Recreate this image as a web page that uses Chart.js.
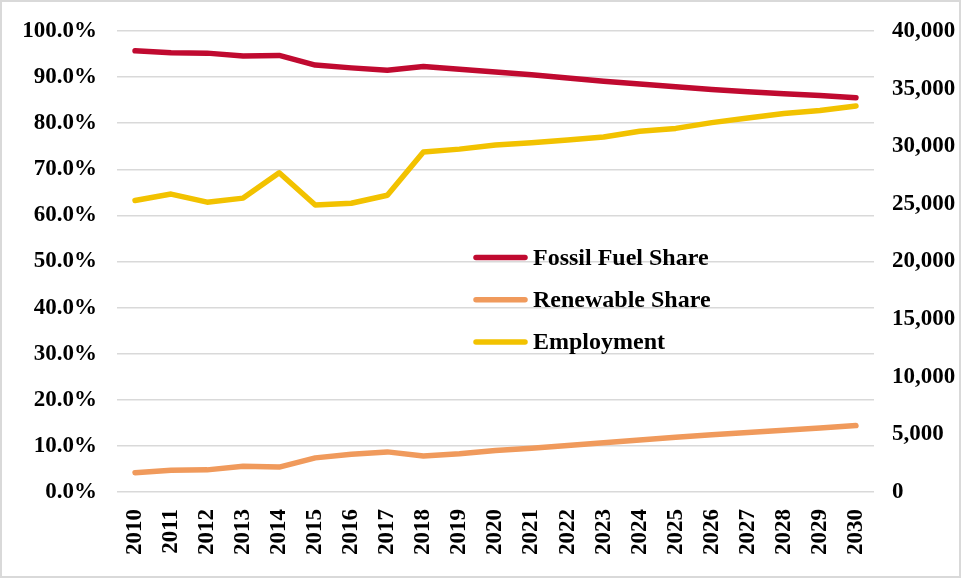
<!DOCTYPE html>
<html>
<head>
<meta charset="utf-8">
<script src="https://cdn.jsdelivr.net/npm/chart.js@4/dist/chart.umd.min.js"></script>
<style>
  html, body { margin: 0; padding: 0; background: #fff; }
  #frame {
    position: absolute; left: 0; top: 0;
    width: 961px; height: 578px;
    box-sizing: border-box;
    border: 2px solid #d9d9d9;
  }
  #chart { display: block; }
</style>
</head>
<body>
<div id="frame"><canvas id="chart" width="957" height="574"></canvas></div>
<script>
// years on the x axis
const years = ['2010', '2011', '2012', '2013', '2014', '2015', '2016', '2017', '2018', '2019', '2020',
               '2021', '2022', '2023', '2024', '2025', '2026', '2027', '2028', '2029', '2030'];

// shares in percent (left axis)
const fossilShare = [95.7, 95.3, 95.2, 94.6, 94.7, 92.6, 92.0, 91.5, 92.3, 91.7, 91.1,
                     90.5, 89.8, 89.1, 88.5, 87.9, 87.3, 86.8, 86.4, 86.0, 85.5];
const renewableShare = [4.2, 4.7, 4.8, 5.6, 5.4, 7.4, 8.2, 8.7, 7.8, 8.3, 9.0,
                        9.5, 10.1, 10.7, 11.3, 11.9, 12.4, 12.9, 13.4, 13.9, 14.4];

// employment (right axis)
const employment = [25300, 25850, 25150, 25500, 27700, 24900, 25050, 25750, 29500, 29750, 30100,
                    30300, 30550, 30800, 31300, 31550, 32050, 32450, 32850, 33100, 33500];

const FONT = { family: '"Liberation Serif", "Times New Roman", serif', size: 23, weight: 'bold' };
const LEGEND_FONT = { family: FONT.family, size: 24, weight: 'bold' };

// legend drawn inside the plot, like the original
const innerLegend = {
    id: 'innerLegend',
    afterDatasetsDraw(chart) {
        const ctx = chart.ctx;
        const x0 = 474, lineLen = 49, textX = 531, rowGap = 42.3;
        let y = 255.5;
        ctx.save();
        ctx.font = `${LEGEND_FONT.weight} ${LEGEND_FONT.size}px ${LEGEND_FONT.family}`;
        ctx.textBaseline = 'middle';
        chart.data.datasets.forEach(ds => {
            ctx.strokeStyle = ds.borderColor;
            ctx.lineWidth = 5.5;
            ctx.lineCap = 'round';
            ctx.beginPath();
            ctx.moveTo(x0, y);
            ctx.lineTo(x0 + lineLen, y);
            ctx.stroke();
            ctx.fillStyle = '#000';
            ctx.fillText(ds.label, textX, y + 1);
            y += rowGap;
        });
        ctx.restore();
    }
};

// keep the plot box where the original has it
function fixVertical(width) {
    return scale => {
        scale.width = width;
        scale.paddingTop = 0;
        scale.paddingBottom = 0;
    };
}

new Chart(document.getElementById('chart'), {
    type: 'line',
    data: {
        labels: years,
        datasets: [
            {
                label: 'Fossil Fuel Share',
                data: fossilShare,
                borderColor: '#C00A30',
                yAxisID: 'y'
            },
            {
                label: 'Renewable Share',
                data: renewableShare,
                borderColor: '#F09A5C',
                yAxisID: 'y'
            },
            {
                label: 'Employment',
                data: employment,
                borderColor: '#F2C200',
                yAxisID: 'y1'
            }
        ]
    },
    options: {
        responsive: false,
        animation: false,
        layout: { padding: { top: 29, left: 0, right: 0, bottom: 0 } },
        elements: {
            line: { borderWidth: 5.5, tension: 0, borderCapStyle: 'round', borderJoinStyle: 'round' },
            point: { radius: 0 }
        },
        scales: {
            x: {
                offset: true,
                grid: { display: false },
                border: { display: false },
                ticks: { font: FONT, color: '#000', minRotation: 90, maxRotation: 90, padding: 9 },
                afterFit(scale) { scale.height = 84; }
            },
            y: {
                position: 'left',
                min: 0, max: 100,
                grid: { color: '#d9d9d9', lineWidth: 1.5, drawTicks: false },
                border: { display: false },
                ticks: {
                    stepSize: 10, font: FONT, color: '#000', padding: 20,
                    callback: v => v.toFixed(1) + '%'
                },
                afterFit: fixVertical(115)
            },
            y1: {
                position: 'right',
                min: 0, max: 40000,
                grid: { display: false, drawTicks: false },
                border: { display: false },
                ticks: {
                    stepSize: 5000, font: FONT, color: '#000', padding: 18,
                    callback: v => v.toLocaleString('en-US')
                },
                afterFit: fixVertical(85)
            }
        },
        plugins: {
            legend: { display: false },
            tooltip: { enabled: false }
        }
    },
    plugins: [innerLegend]
});
</script>
</body>
</html>
